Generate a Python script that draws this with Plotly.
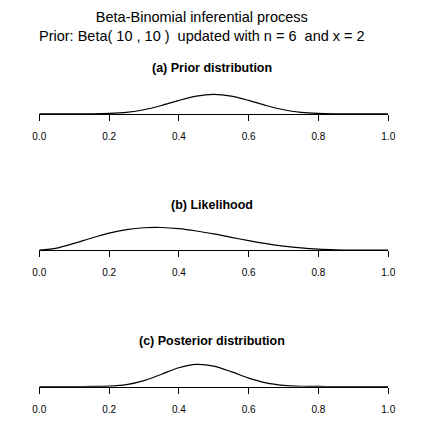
import plotly.graph_objects as go

# ---- data ----
p_grid = [0.00, 0.05, 0.10, 0.15, 0.20, 0.25, 0.30, 0.35, 0.40, 0.45, 0.50,
          0.55, 0.60, 0.65, 0.70, 0.75, 0.80, 0.85, 0.90, 0.95, 1.00]
prior_density = [0, 0, 0.0004, 0.008, 0.06, 0.26, 0.73, 1.51, 2.44, 3.22, 3.52,
                 3.22, 2.44, 1.51, 0.73, 0.26, 0.06, 0.008, 0.0004, 0, 0]
likelihood_vals = [0, 0.38, 1.24, 2.21, 3.09, 3.73, 4.08, 4.12, 3.91, 3.49, 2.95,
                   2.34, 1.74, 1.20, 0.75, 0.41, 0.19, 0.07, 0.015, 0.001, 0]
posterior_density = [0, 0, 0.0003, 0.006, 0.07, 0.35, 1.07, 2.22, 3.41, 4.02, 3.71,
                     2.69, 1.51, 0.64, 0.20, 0.04, 0.005, 0.0003, 0, 0, 0]
tick_vals = [0.0, 0.2, 0.4, 0.6, 0.8, 1.0]
tick_text = ["0.0", "0.2", "0.4", "0.6", "0.8", "1.0"]
main_title_1 = "Beta-Binomial inferential process"
main_title_2 = "Prior: Beta( 10 , 10 )  updated with n = 6  and x = 2"
panel_titles = ["(a) Prior distribution", "(b) Likelihood", "(c) Posterior distribution"]
series = [prior_density, likelihood_vals, posterior_density]

# ---- layout geometry (pixels) ----
W, H = 423, 425
x0_px, x1_px = 33.4, 394.3
baselines = [114.0, 250.4, 386.7]
panel_h = 30.0
px_per_unit = 5.5
y_lo = -0.04
y_hi = panel_h / px_per_unit + y_lo
FONT = "Liberation Sans, Arial, Helvetica, sans-serif"

def py(px):
    return 1 - px / H

fig = go.Figure()
layout = dict(
    width=W, height=H,
    margin=dict(l=0, r=0, t=0, b=0),
    paper_bgcolor="white", plot_bgcolor="white",
    showlegend=False,
    font=dict(family=FONT, color="black"),
)
annotations = []
for i, (vals, title, base) in enumerate(zip(series, panel_titles, baselines)):
    n = "" if i == 0 else str(i + 1)
    fig.add_trace(go.Scatter(
        x=p_grid, y=vals, mode="lines",
        line=dict(color="black", width=1.2, shape="spline", smoothing=0.8),
        xaxis="x" + n, yaxis="y" + n, hoverinfo="skip",
    ))
    layout["xaxis" + n] = dict(
        domain=[x0_px / W, x1_px / W], range=[0, 1], anchor="y" + n,
        tickvals=tick_vals, ticktext=tick_text, ticks="outside", ticklen=6,
        tickwidth=1, tickcolor="black", showline=True, linecolor="black",
        linewidth=1, showgrid=False, zeroline=False,
        tickfont=dict(size=10, family=FONT, color="black"),
        ticklabelstandoff=7,
    )
    layout["yaxis" + n] = dict(
        domain=[py(base), py(base - panel_h)], range=[y_lo, y_hi], anchor="x" + n,
        visible=False, showgrid=False, zeroline=False,
    )
    annotations.append(dict(
        text="<b>" + title + "</b>", xref="paper", yref="paper",
        x=212 / W, y=py(base - 45.5), xanchor="center", yanchor="middle",
        showarrow=False, font=dict(size=12.5, family=FONT, color="black"),
    ))

annotations.append(dict(text=main_title_1 + "<br>" + main_title_2,
                        xref="paper", yref="paper",
                        x=202 / W, y=py(27), xanchor="center", yanchor="middle",
                        showarrow=False, align="center",
                        font=dict(size=14.5, family=FONT, color="black")))
layout["annotations"] = annotations
fig.update_layout(**layout)
fig.write_html("out.html")
